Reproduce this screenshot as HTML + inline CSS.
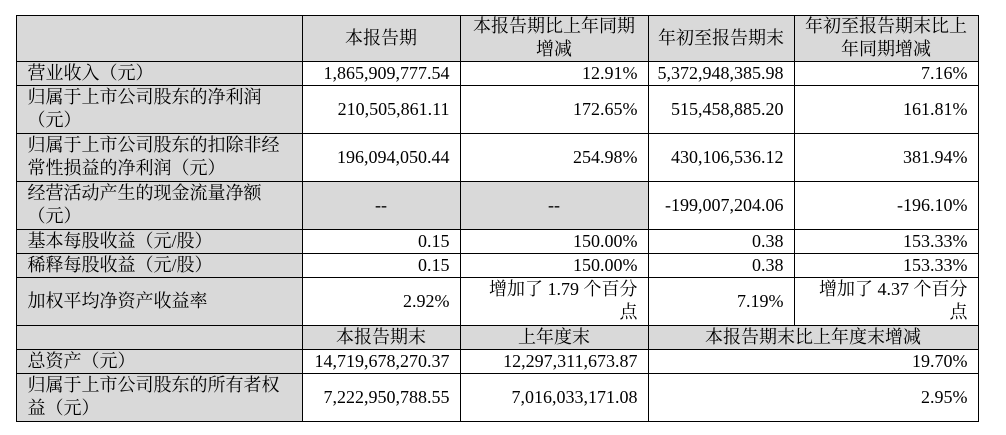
<!DOCTYPE html>
<html><head><meta charset="utf-8"><style>
body{margin:0;width:1006px;height:435px;background:#fff;position:relative;overflow:hidden;font-family:"Liberation Serif","Noto Serif CJK SC",serif;font-size:18px;color:#000}
.c{position:absolute;box-sizing:border-box;border:1px solid #000;display:flex;align-items:center;padding:0 10px 0 11px;line-height:23px;margin:-0.5px 0 0 -0.5px;white-space:nowrap}
.g{background:#d9d9d9}
.r{justify-content:flex-end;text-align:right}
.m{justify-content:center;text-align:center;padding:0}
.l{justify-content:flex-start}
</style></head><body>
<div class="c g" style="left:16px;top:15px;width:287px;height:47px"></div>
<div class="c g m" style="left:302px;top:15px;width:159px;height:47px">本报告期</div>
<div class="c g m" style="left:460px;top:15px;width:189px;height:47px">本报告期比上年同期<br>增减</div>
<div class="c g m" style="left:648px;top:15px;width:147px;height:47px">年初至报告期末</div>
<div class="c g m" style="left:794px;top:15px;width:185px;height:47px">年初至报告期末比上<br>年同期增减</div>

<div class="c g l" style="left:16px;top:61px;width:287px;height:25px">营业收入（元）</div>
<div class="c r" style="left:302px;top:61px;width:159px;height:25px">1,865,909,777.54</div>
<div class="c r" style="left:460px;top:61px;width:189px;height:25px">12.91%</div>
<div class="c r" style="left:648px;top:61px;width:147px;height:25px">5,372,948,385.98</div>
<div class="c r" style="left:794px;top:61px;width:185px;height:25px">7.16%</div>

<div class="c g l" style="left:16px;top:85px;width:287px;height:49px">归属于上市公司股东的净利润<br>（元）</div>
<div class="c r" style="left:302px;top:85px;width:159px;height:49px">210,505,861.11</div>
<div class="c r" style="left:460px;top:85px;width:189px;height:49px">172.65%</div>
<div class="c r" style="left:648px;top:85px;width:147px;height:49px">515,458,885.20</div>
<div class="c r" style="left:794px;top:85px;width:185px;height:49px">161.81%</div>

<div class="c g l" style="left:16px;top:133px;width:287px;height:49px">归属于上市公司股东的扣除非经<br>常性损益的净利润（元）</div>
<div class="c r" style="left:302px;top:133px;width:159px;height:49px">196,094,050.44</div>
<div class="c r" style="left:460px;top:133px;width:189px;height:49px">254.98%</div>
<div class="c r" style="left:648px;top:133px;width:147px;height:49px">430,106,536.12</div>
<div class="c r" style="left:794px;top:133px;width:185px;height:49px">381.94%</div>

<div class="c g l" style="left:16px;top:181px;width:287px;height:49px">经营活动产生的现金流量净额<br>（元）</div>
<div class="c g m" style="left:302px;top:181px;width:159px;height:49px">--</div>
<div class="c g m" style="left:460px;top:181px;width:189px;height:49px">--</div>
<div class="c r" style="left:648px;top:181px;width:147px;height:49px">-199,007,204.06</div>
<div class="c r" style="left:794px;top:181px;width:185px;height:49px">-196.10%</div>

<div class="c g l" style="left:16px;top:229px;width:287px;height:25px">基本每股收益（元/股）</div>
<div class="c r" style="left:302px;top:229px;width:159px;height:25px">0.15</div>
<div class="c r" style="left:460px;top:229px;width:189px;height:25px">150.00%</div>
<div class="c r" style="left:648px;top:229px;width:147px;height:25px">0.38</div>
<div class="c r" style="left:794px;top:229px;width:185px;height:25px">153.33%</div>

<div class="c g l" style="left:16px;top:253px;width:287px;height:25px">稀释每股收益（元/股）</div>
<div class="c r" style="left:302px;top:253px;width:159px;height:25px">0.15</div>
<div class="c r" style="left:460px;top:253px;width:189px;height:25px">150.00%</div>
<div class="c r" style="left:648px;top:253px;width:147px;height:25px">0.38</div>
<div class="c r" style="left:794px;top:253px;width:185px;height:25px">153.33%</div>

<div class="c g l" style="left:16px;top:277px;width:287px;height:49px">加权平均净资产收益率</div>
<div class="c r" style="left:302px;top:277px;width:159px;height:49px">2.92%</div>
<div class="c r" style="left:460px;top:277px;width:189px;height:49px">增加了 1.79 个百分<br>点</div>
<div class="c r" style="left:648px;top:277px;width:147px;height:49px">7.19%</div>
<div class="c r" style="left:794px;top:277px;width:185px;height:49px">增加了 4.37 个百分<br>点</div>

<div class="c g" style="left:16px;top:325px;width:287px;height:25px"></div>
<div class="c g m" style="left:302px;top:325px;width:159px;height:25px">本报告期末</div>
<div class="c g m" style="left:460px;top:325px;width:189px;height:25px">上年度末</div>
<div class="c g m" style="left:648px;top:325px;width:331px;height:25px">本报告期末比上年度末增减</div>

<div class="c g l" style="left:16px;top:349px;width:287px;height:25px">总资产（元）</div>
<div class="c r" style="left:302px;top:349px;width:159px;height:25px">14,719,678,270.37</div>
<div class="c r" style="left:460px;top:349px;width:189px;height:25px">12,297,311,673.87</div>
<div class="c r" style="left:648px;top:349px;width:331px;height:25px">19.70%</div>

<div class="c g l" style="left:16px;top:373px;width:287px;height:49px">归属于上市公司股东的所有者权<br>益（元）</div>
<div class="c r" style="left:302px;top:373px;width:159px;height:49px">7,222,950,788.55</div>
<div class="c r" style="left:460px;top:373px;width:189px;height:49px">7,016,033,171.08</div>
<div class="c r" style="left:648px;top:373px;width:331px;height:49px">2.95%</div>
</body></html>
